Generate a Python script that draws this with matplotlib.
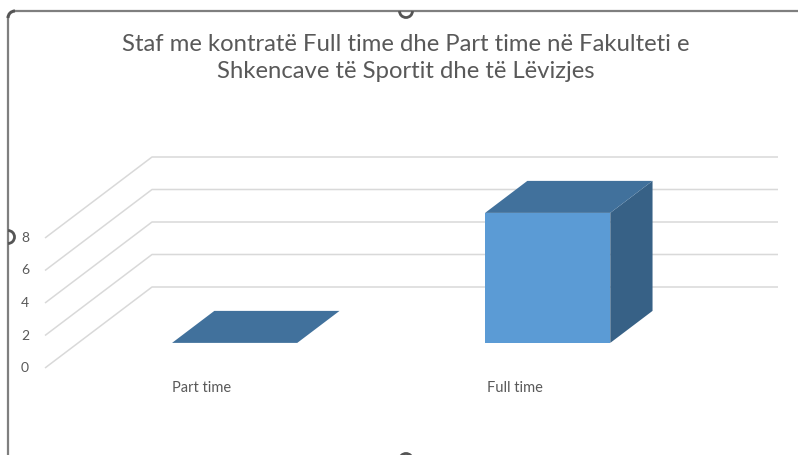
import matplotlib
matplotlib.use("Agg")
import matplotlib.pyplot as plt
from matplotlib.patches import Polygon, Arc

title = "Staf me kontratë Full time dhe Part time në Fakulteti e\nShkencave të Sportit dhe të Lëvizjes"
categories = ["Part time", "Full time"]
values = [0, 8]
yticks = [0, 2, 4, 6, 8]

FRONT = "#5B9BD5"
TOP = "#41719C"
SIDE = "#376186"
GRID = "#D9D9D9"
TEXT = "#595959"

W, H = 798, 455
fig = plt.figure(figsize=(W / 100, H / 100), dpi=100)
ax = fig.add_axes([0, 0, 1, 1])
ax.set_xlim(0, W)
ax.set_ylim(H, 0)
ax.axis("off")

# oblique projection of (category position, value, depth) -> canvas
X0, Y0 = 45.0, 368.0
CAT_W = 313.0
UNIT = 16.25
DX, DY = 107.0, -81.0


def proj(c, v, d):
    return (X0 + c * CAT_W + d * DX, Y0 - v * UNIT + d * DY)


ncat = len(categories)
# gridlines (left wall + back wall)
for v in yticks:
    p0 = proj(0, v, 0)
    p1 = proj(0, v, 1)
    p2 = proj(ncat, v, 1)
    ax.plot([p0[0], p1[0], p2[0]], [p0[1], p1[1], p2[1]], color=GRID, lw=1.1,
            solid_capstyle="butt", zorder=1)
    ax.text(p0[0] - 20, p0[1], str(v), ha="center", va="center", fontsize=10,
            color=TEXT, family="Lato")

BW = 0.4
D0, D1 = 0.31, 0.705
for i, (cat, val) in enumerate(zip(categories, values)):
    cl = i + 0.5 - BW / 2
    cr = i + 0.5 + BW / 2
    if val > 0:
        front = [proj(cl, 0, D0), proj(cr, 0, D0), proj(cr, val, D0), proj(cl, val, D0)]
        ax.add_patch(Polygon(front, closed=True, fc=FRONT, ec="none", zorder=3))
        side = [proj(cr, 0, D0), proj(cr, 0, D1), proj(cr, val, D1), proj(cr, val, D0)]
        ax.add_patch(Polygon(side, closed=True, fc=SIDE, ec="none", zorder=3))
    top = [proj(cl, val, D0), proj(cr, val, D0), proj(cr, val, D1), proj(cl, val, D1)]
    ax.add_patch(Polygon(top, closed=True, fc=TOP, ec="none", zorder=3))
    lx, ly = proj(i + 0.5, 0, 0)
    ax.text(lx, ly + 20, cat, ha="center", va="center", fontsize=10.5,
            color=TEXT, family="Lato")

ax.text(W / 2 + 7, 58, title, ha="center", va="center", fontsize=17.2,
        color=TEXT, family="Lato", linespacing=1.32)

# selection frame decorations
FR = "#7F7F7F"
ax.plot([8, 8], [18, H], color=FR, lw=1.6, zorder=5)
ax.plot([15, W], [11, 11], color=FR, lw=1.6, zorder=5)
ax.add_patch(Arc((15, 18), 14, 14, theta1=180, theta2=270, color="#555555", lw=2.2, zorder=6))
ax.add_patch(Arc((406, 11), 13, 13, theta1=0, theta2=180, color="#555555", lw=2.0, zorder=6))
ax.add_patch(Arc((8, 237), 13, 13, theta1=-90, theta2=90, color="#555555", lw=2.0, zorder=6))
ax.add_patch(Arc((406, 460), 13, 13, theta1=180, theta2=360, color="#555555", lw=2.0, zorder=6))
ax.add_patch(Polygon([(8, 11), (15, 11), (8, 18)], closed=True, fc="white", ec="none", zorder=5.5))

fig.savefig("out.png", dpi=100, facecolor="white")
